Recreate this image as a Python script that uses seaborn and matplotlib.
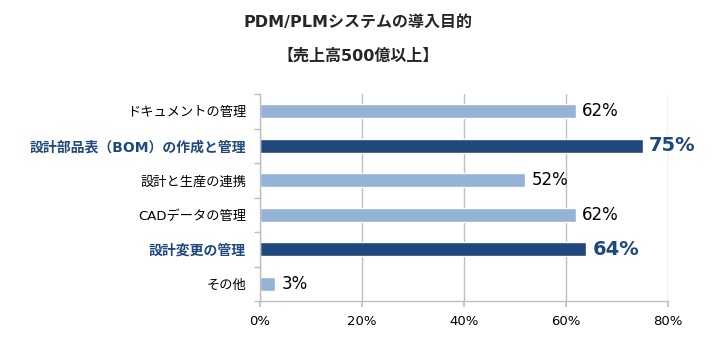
import matplotlib
matplotlib.use("Agg")
import matplotlib.pyplot as plt
import seaborn as sns
import pandas as pd
import numpy as np

categories = ["ドキュメントの管理", "設計部品表（BOM）の作成と管理", "設計と生産の連携",
              "CADデータの管理", "設計変更の管理", "その他"]
values = [62, 75, 52, 62, 64, 3]
highlight = [False, True, False, False, True, False]
xticks = [0, 20, 40, 60, 80]
title1 = "PDM/PLMシステムの導入目的"
title2 = "【売上高500億以上】"

sns.set_theme(style="white")
plt.rcParams['font.family'] = ['DejaVu Sans', 'Noto Sans CJK JP']

LIGHT = "#95B3D7"
DARK = "#1F497D"
GRID = "#BFBFBF"

df = pd.DataFrame({"cat": categories, "val": values})
palette = {c: (DARK if h else LIGHT) for c, h in zip(categories, highlight)}

fig = plt.figure(figsize=(7.17, 3.55), dpi=100)
ax = fig.add_axes([260/717, 1-301/355, (668-260)/717, (301-94)/355])

sns.barplot(data=df, y="cat", x="val", hue="cat", palette=palette, orient="h",
            width=0.42, legend=False, ax=ax, saturation=1, dodge=False)

ax.set_xlim(0, 80)
ax.set_ylim(len(categories)-0.5, -0.5)
ax.set_xticks(xticks)
ax.set_xticklabels([f"{t}%" for t in xticks], fontsize=9.5, color="#000000")
ax.set_xlabel("")
ax.set_ylabel("")
ax.xaxis.grid(True, color=GRID, linewidth=1)
ax.set_axisbelow(True)

for s in ["top", "right"]:
    ax.spines[s].set_visible(False)
for s in ["left", "bottom"]:
    ax.spines[s].set_visible(True)
    ax.spines[s].set_color(GRID)
    ax.spines[s].set_linewidth(1)

ax.tick_params(axis="x", which="major", length=4, color=GRID, direction="out", bottom=True, pad=6)
ax.set_yticks(range(len(categories)))
ax.set_yticklabels(categories)
ax.tick_params(axis="y", which="major", length=0, pad=10)
ax.set_yticks(np.arange(-0.5, len(categories), 1), minor=True)
ax.tick_params(axis="y", which="minor", length=4, color=GRID, left=True)

for lbl, h in zip(ax.get_yticklabels(), highlight):
    if h:
        lbl.set_fontsize(10)
        lbl.set_color(DARK)
        lbl.set_fontweight("bold")
    else:
        lbl.set_fontsize(9.5)
        lbl.set_color("#000000")

for i, (v, h) in enumerate(zip(values, highlight)):
    if h:
        ax.text(v + 1.2, i, f"{v}%", va="center", ha="left", fontsize=14,
                fontweight="bold", color=DARK)
    else:
        ax.text(v + 1.2, i, f"{v}%", va="center", ha="left", fontsize=12, color="#000000")

fig.text(358/717, 1-22/355, title1, ha="center", va="center", fontsize=11.5, fontweight="bold")
fig.text(358/717, 1-56/355, title2, ha="center", va="center", fontsize=11.5, fontweight="bold")

fig.savefig("out.png", dpi=100)
